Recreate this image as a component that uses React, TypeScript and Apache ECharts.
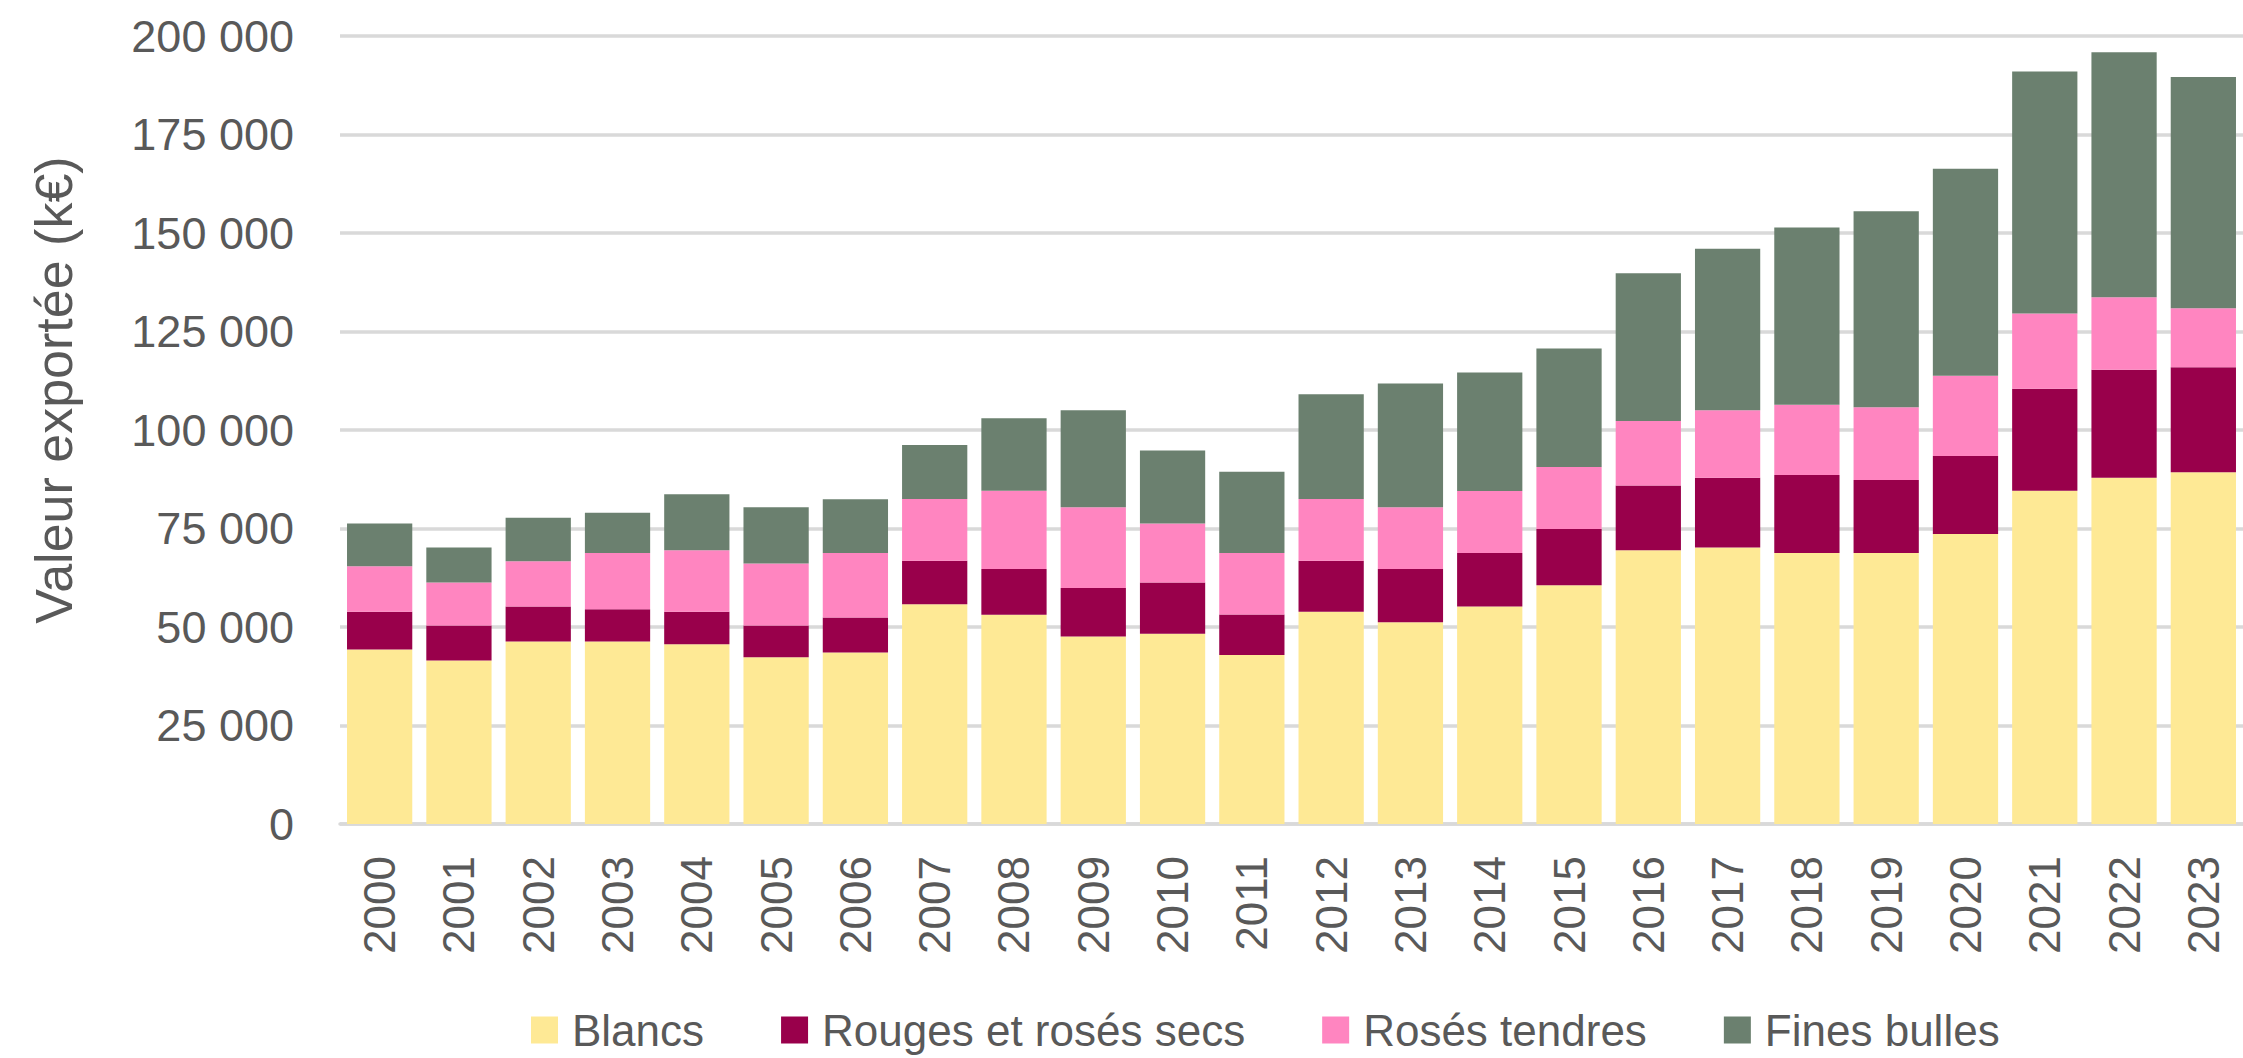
import React, { useEffect, useRef } from "react";
import * as echarts from "echarts";

const years = ["2000","2001","2002","2003","2004","2005","2006","2007","2008","2009","2010","2011","2012","2013","2014","2015","2016","2017","2018","2019","2020","2021","2022","2023"];
const blancs = [44300, 41500, 46300, 46300, 45600, 42300, 43500, 55800, 53100, 47600, 48300, 42900, 53900, 51200, 55200, 60600, 69500, 70200, 68800, 68800, 73600, 84600, 87900, 89300];
const rouges = [9600, 8900, 8900, 8200, 8300, 8100, 8900, 11000, 11600, 12300, 13000, 10300, 12900, 13500, 13600, 14300, 16400, 17700, 19800, 18500, 19800, 25900, 27400, 26600];
const rosesTendres = [11500, 10900, 11500, 14300, 15600, 15700, 16400, 15700, 19900, 20500, 15000, 15600, 15700, 15700, 15700, 15700, 16400, 17100, 17800, 18500, 20400, 19100, 18400, 15000];
const finesBulles = [10900, 8900, 11000, 10200, 14200, 14300, 13600, 13700, 18400, 24600, 18500, 20600, 26600, 31400, 30100, 30100, 37500, 41000, 45000, 49700, 52500, 61400, 62200, 58700];
const seriesNames = ["Blancs", "Rouges et rosés secs", "Rosés tendres", "Fines bulles"];
const seriesColors = ["#FEE995", "#99004B", "#FF85C0", "#6B806F"];
const yTitle = "Valeur exportée (k€)";

const FONT = "Liberation Sans, Arial, sans-serif";
const TEXT = "#595959";

function fmt(v: number): string {
  return String(Math.round(v)).replace(/\B(?=(\d{3})+(?!\d))/g, " ");
}

export default function App() {
  const ref = useRef<HTMLDivElement>(null);
  useEffect(() => {
    if (!ref.current) return;
    const chart = echarts.init(ref.current, null, { renderer: "svg" });
    const data = [blancs, rouges, rosesTendres, finesBulles];
    chart.setOption({
      animation: false,
      backgroundColor: "#ffffff",
      textStyle: { fontFamily: FONT },
      grid: { left: 340, right: -16, top: 36, bottom: 234, containLabel: false },
      legend: {
        left: 531,
        top: 1008,
        padding: 0,
        itemWidth: 27,
        itemHeight: 27,
        itemGap: 77,
        icon: "rect",
        textStyle: { color: TEXT, fontSize: 44, fontFamily: FONT, padding: [0, 0, 0, 9] },
        data: seriesNames,
      },
      xAxis: {
        type: "category",
        data: years,
        axisTick: { show: false },
        axisLine: { lineStyle: { color: "#D9D9D9", width: 3.5 } },
        axisLabel: { rotate: 90, margin: 32, color: TEXT, fontSize: 44, fontFamily: FONT, interval: 0 },
      },
      yAxis: {
        type: "value",
        min: 0,
        max: 200000,
        interval: 25000,
        axisLine: { show: false },
        axisTick: { show: false },
        splitLine: { lineStyle: { color: "#D9D9D9", width: 3.5 } },
        axisLabel: { margin: 46, color: TEXT, fontSize: 45, fontFamily: FONT, formatter: (v: number) => fmt(v) },
      },
      graphic: [
        {
          type: "text",
          x: 54,
          y: 390,
          rotation: Math.PI / 2,
          style: {
            text: yTitle,
            fill: TEXT,
            fontSize: 52,
            fontFamily: FONT,
            textAlign: "center",
            textVerticalAlign: "middle",
          },
        },
      ],
      series: seriesNames.map((name, i) => ({
        name,
        type: "bar",
        stack: "total",
        barCategoryGap: "17.7%",
        itemStyle: { color: seriesColors[i] },
        data: data[i],
      })),
    });
    return () => chart.dispose();
  }, []);
  return (
    <div
      ref={ref}
      style={{ position: "fixed", left: 0, top: 0, width: 2243, height: 1058, background: "#fff" }}
    />
  );
}
